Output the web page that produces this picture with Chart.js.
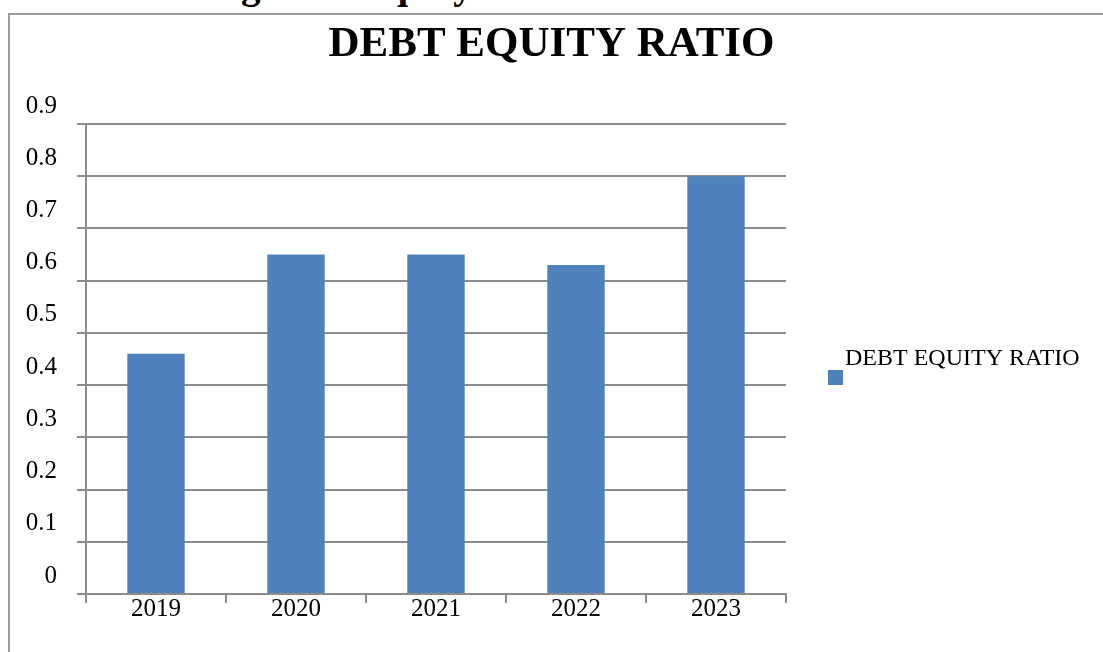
<!DOCTYPE html>
<html>
<head>
<meta charset="utf-8">
<script src="https://cdn.jsdelivr.net/npm/chart.js@4/dist/chart.umd.min.js"></script>
<style>
  html, body { margin: 0; padding: 0; background: #fff; overflow: hidden; }
  body { width: 1103px; height: 652px; position: relative; }
  #heading {
    position: absolute; left: 8px; top: -35px; margin: 0;
    font: bold 39px/39px "Liberation Serif", serif; color: #000; white-space: nowrap;
  }
  #frame {
    position: absolute; left: 8px; top: 13px; width: 1200px; height: 700px;
    border-left: 2px solid #9c9c9c; border-top: 2px solid #9c9c9c;
  }
  #chart { position: absolute; left: 0; top: 0; }
</style>
</head>
<body>
<p id="heading">Chart Showing Debt Equity Ratio</p>
<div id="frame"></div>
<canvas id="chart" width="1103" height="652"></canvas>
<script>
// Debt equity ratio by year
const years = ['2019', '2020', '2021', '2022', '2023'];
const debtEquityRatio = [0.46, 0.65, 0.65, 0.63, 0.80];
const yTickLabels = ['0', '0.1', '0.2', '0.3', '0.4', '0.5', '0.6', '0.7', '0.8', '0.9'];

const seriesName = 'DEBT EQUITY RATIO';
const barColor = '#4f81bd';
const gridColor = '#8c8c8c';
const serif = '"Liberation Serif", "Times New Roman", serif';

// Legend: a square swatch sitting just below its label, to the right of the plot
const sideLegend = {
  id: 'sideLegend',
  afterDraw(chart) {
    const { ctx, chartArea } = chart;
    const ds = chart.data.datasets[0];
    const midY = (chartArea.top + chartArea.bottom) / 2;
    const boxX = chartArea.right + 42;
    const boxY = midY + 11;
    ctx.save();
    ctx.fillStyle = ds.backgroundColor;
    ctx.fillRect(boxX, boxY, 15, 15);
    ctx.fillStyle = '#000';
    ctx.font = '24px ' + serif;
    ctx.textBaseline = 'alphabetic';
    ctx.textAlign = 'left';
    ctx.fillText(ds.label, boxX + 17, midY + 6);
    ctx.restore();
  }
};

new Chart(document.getElementById('chart'), {
  type: 'bar',
  data: {
    labels: years,
    datasets: [{
      label: seriesName,
      data: debtEquityRatio,
      backgroundColor: barColor,
      categoryPercentage: 1,
      barPercentage: 0.41
    }]
  },
  options: {
    responsive: false,
    devicePixelRatio: 1,
    animation: false,
    layout: { padding: 0 },
    plugins: {
      legend: { display: false },
      tooltip: { enabled: false },
      title: {
        display: true,
        text: seriesName,
        color: '#000',
        font: { family: serif, size: 43, weight: 'bold', lineHeight: 1 },
        padding: { top: 23, bottom: 58 }
      }
    },
    scales: {
      x: {
        grid: {
          display: true, drawOnChartArea: false, drawTicks: true,
          tickLength: 9, offset: true, color: gridColor, lineWidth: 2
        },
        border: { display: true, color: gridColor, width: 2 },
        ticks: { color: '#000', font: { family: serif, size: 25 }, padding: -9 },
        afterFit(scale) { scale.height = 58; }
      },
      y: {
        min: 0,
        max: 0.9,
        grid: { color: gridColor, lineWidth: 2, tickLength: 9, drawTicks: true },
        border: { display: true, color: gridColor, width: 2 },
        ticks: {
          stepSize: 0.1,
          color: '#000',
          font: { family: serif, size: 25 },
          padding: 20,
          labelOffset: -18,
          callback: (v, i) => yTickLabels[i]
        },
        afterFit(scale) { scale.width = 86; }
      },
      legendSpace: {
        type: 'linear',
        position: 'right',
        display: true,
        grid: { display: false },
        border: { display: false },
        ticks: { display: false },
        afterFit(scale) { scale.width = 317; }
      }
    }
  },
  plugins: [sideLegend]
});
</script>
</body>
</html>
